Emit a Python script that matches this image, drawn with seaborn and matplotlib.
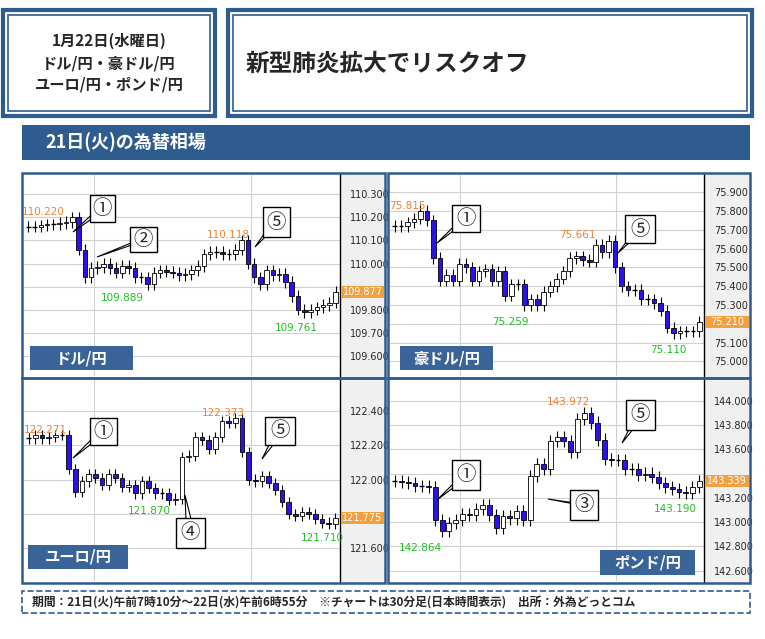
import matplotlib
matplotlib.use("Agg")
import matplotlib.pyplot as plt
import seaborn as sns
from matplotlib.patches import Rectangle, Polygon

sns.set_theme(style="white")
plt.rcParams['font.family'] = ['Noto Sans CJK JP', 'DejaVu Sans']

W, H = 765, 639
usd_close = [110.16,110.16,110.165,110.17,110.17,110.175,110.18,110.20,110.06,109.94,109.98,109.985,110.00,109.98,109.96,109.99,109.98,109.94,109.94,109.91,109.96,109.97,109.965,109.96,109.95,109.955,109.97,109.99,110.04,110.05,110.05,110.04,110.04,110.06,110.10,110.00,109.94,109.91,109.97,109.95,109.955,109.92,109.86,109.80,109.79,109.80,109.81,109.82,109.83,109.877]
aud_close = [75.72,75.72,75.74,75.76,75.80,75.75,75.55,75.43,75.46,75.43,75.52,75.50,75.43,75.48,75.49,75.43,75.48,75.35,75.41,75.41,75.30,75.33,75.30,75.37,75.40,75.44,75.48,75.55,75.56,75.54,75.53,75.62,75.58,75.64,75.50,75.40,75.38,75.38,75.33,75.33,75.31,75.27,75.18,75.15,75.16,75.16,75.16,75.21]
eur_close = [122.24,122.26,122.24,122.25,122.26,122.26,122.06,121.93,121.99,122.03,122.01,121.97,122.03,122.01,121.96,121.97,121.92,121.99,121.95,121.92,121.92,121.88,121.89,122.13,122.14,122.25,122.23,122.18,122.25,122.34,122.33,122.36,122.16,122.00,121.99,122.02,121.98,121.94,121.87,121.80,121.79,121.81,121.80,121.77,121.75,121.74,121.775]
gbp_close = [143.34,143.33,143.32,143.30,143.30,143.29,143.02,142.93,142.99,143.02,143.07,143.06,143.11,143.14,143.06,142.95,143.05,143.03,143.09,143.02,143.38,143.48,143.44,143.67,143.70,143.67,143.58,143.85,143.90,143.82,143.68,143.52,143.51,143.51,143.44,143.44,143.39,143.40,143.37,143.32,143.29,143.27,143.25,143.24,143.29,143.339]

panels = [
    dict(name="ドル/円", close=usd_close, box=(22,173,385,378), axw=45, ylim=(109.512,110.384),
         ticks=[109.6,109.7,109.8,109.9,110.0,110.1,110.2,110.3], cur=109.877, wick=0.025,
         label=(30,346,133,370),
         hl=[("110.220",43,212,'#f08030'),("109.889",122,298,'#20c020'),("110.118",228,235,'#f08030'),("109.761",296,328,'#20c020')],
         calls=[("①",90,195,115,222,73,232),("②",130,227,157,252,97,257),("⑤",263,207,290,237,255,247)]),
    dict(name="豪ドル/円", close=aud_close, box=(388,173,750,378), axw=46, ylim=(74.922,75.992),
         ticks=[75.0,75.1,75.2,75.3,75.4,75.5,75.6,75.7,75.8,75.9], cur=75.210, wick=0.03,
         label=(400,346,493,370),
         hl=[("75.815",407,206,'#f08030'),("75.259",510,322,'#20c020'),("75.661",577,235,'#f08030'),("75.110",668,350,'#20c020')],
         calls=[("①",452,205,480,232,437,243),("⑤",625,215,655,243,618,253)]),
    dict(name="ユーロ/円", close=eur_close, box=(22,378,385,583), axw=45, ylim=(121.41,122.58),
         ticks=[121.6,121.8,122.0,122.2,122.4], cur=121.775, wick=0.03,
         label=(28,545,128,569),
         hl=[("122.271",45,430,'#f08030'),("121.870",149,511,'#20c020'),("122.373",223,413,'#f08030'),("121.710",322,538,'#20c020')],
         calls=[("①",90,418,117,445,73,458),("⑤",265,417,295,445,262,459),("④",176,518,205,548,185,495)]),
    dict(name="ポンド/円", close=gbp_close, box=(388,378,750,583), axw=46, ylim=(142.515,144.17),
         ticks=[142.6,142.8,143.0,143.2,143.4,143.6,143.8,144.0], cur=143.339, wick=0.05,
         label=(600,550,695,575),
         hl=[("142.864",420,548,'#20c020'),("143.972",568,402,'#f08030'),("143.190",675,509,'#20c020')],
         calls=[("①",452,460,480,490,437,500),("⑤",626,400,655,430,622,443),("③",570,490,598,520,548,499)]),
]

fig = plt.figure(figsize=(W/100, H/100), dpi=100)
fig.patch.set_facecolor('white')
NAVY = '#2f5c8f'

def fx(x): return x / W
def fy(y): return 1 - y / H
def rect(x0, y0, x1, y1, **kw):
    fig.patches.append(Rectangle((fx(x0), fy(y1)), fx(x1)-fx(x0), (y1-y0)/H, transform=fig.transFigure, **kw))

for (x0, y0, x1, y1) in [(3,10,215,116), (228,10,752,116)]:
    rect(x0, y0, x1, y1, fill=False, ec=NAVY, lw=3)
    rect(x0+5, y0+5, x1-5, y1-5, fill=False, ec=NAVY, lw=1.2)
fig.text(fx(109), fy(63), "1月22日(水曜日)\nドル/円・豪ドル/円\nユーロ/円・ポンド/円", ha='center', va='center',
         fontsize=11, fontweight='bold', linespacing=1.45)
fig.text(fx(246), fy(64), "新型肺炎拡大でリスクオフ", ha='left', va='center', fontsize=17, fontweight='bold')
rect(22, 125, 750, 160, color=NAVY, ec='none')
fig.text(fx(45), fy(142.5), "21日(火)の為替相場", color='white', fontsize=13, fontweight='bold', va='center')

for p in panels:
    x0, y0, x1, y1 = p['box']
    px1 = x1 - p['axw']
    gax = fig.add_axes([fx(px1), fy(y1), fx(x1)-fx(px1), (y1-y0)/H], zorder=-1)
    gax.set_facecolor('#f0f0f0'); gax.set_xticks([]); gax.set_yticks([])
    for s in gax.spines.values(): s.set_visible(False)
    ax = fig.add_axes([fx(x0+2), fy(y1-2), fx(px1)-fx(x0+2), (y1-y0-4)/H])
    c = p['close']; n = len(c)
    opens = [c[0]] + c[:-1]
    for i, (o, cl) in enumerate(zip(opens, c)):
        hi = max(o, cl) + p['wick']; lo = min(o, cl) - p['wick']
        ax.vlines(i, lo, hi, color='black', lw=0.8, zorder=2)
        if abs(cl - o) < 1e-9:
            ax.hlines(cl, i-0.35, i+0.35, color='black', lw=1, zorder=3)
        else:
            fc = 'white' if cl > o else '#2a12e8'
            ax.bar(i, abs(cl-o), bottom=min(o, cl), width=0.72, color=fc, edgecolor='black', lw=0.6, zorder=3)
    ax.set_xlim(-0.7, n - 0.3)
    ax.set_ylim(*p['ylim'])
    ax.set_yticks(p['ticks'])
    span = p['ylim'][1] - p['ylim'][0]
    ax.set_yticklabels([f"{t:.3f}" if abs(t - p['cur']) > span * 0.045 else "" for t in p['ticks']],
                       fontsize=7, family='DejaVu Sans')
    ax.yaxis.tick_right()
    ax.tick_params(axis='y', length=0, pad=7)
    ax.set_xticks([n*0.21, n*0.71])
    ax.set_xticklabels([])
    ax.tick_params(axis='x', length=0)
    ax.grid(True, color='#d0d0d0', lw=0.8)
    ax.set_facecolor('white')
    for s in ax.spines.values(): s.set_visible(False)
    fig.lines.append(plt.Line2D([fx(px1), fx(px1)], [fy(y0), fy(y1)], transform=fig.transFigure, color='black', lw=1))
    rect(x0, y0, x1, y1, fill=False, ec=NAVY, lw=1.8, zorder=5)
    yc = ax.transData.transform((0, p['cur']))[1]
    ypix = H - yc
    rect(px1+1, ypix-6, x1-1, ypix+6, color='#f4a040', ec='none', zorder=6)
    fig.text(fx((px1+x1)/2), fy(ypix), f"{p['cur']:.3f}", color='white', fontsize=7, ha='center', va='center',
             family='DejaVu Sans', zorder=7)
    lx0, ly0, lx1, ly1 = p['label']
    rect(lx0, ly0, lx1, ly1, color='#3a6497', ec='none', zorder=6)
    fig.text(fx((lx0+lx1)/2), fy((ly0+ly1)/2), p['name'], color='white', fontsize=11, fontweight='bold',
             ha='center', va='center', zorder=7)
    for t, hx, hy, col in p['hl']:
        fig.text(fx(hx), fy(hy), t, color=col, fontsize=7.5, ha='center', va='center', family='DejaVu Sans')
    for t, bx0, by0, bx1, by1, tx, ty in p['calls']:
        cx, cy = (bx0+bx1)/2, (by0+by1)/2
        fig.patches.append(Polygon(
            [(fx(tx), fy(ty)), (fx(cx-4), fy(cy)), (fx(cx+4), fy(cy))], closed=True,
            transform=fig.transFigure, fc='white', ec='black', lw=0.8, zorder=8))
        rect(bx0, by0, bx1, by1, fc='white', ec='black', lw=1, zorder=9)
        fig.text(fx(cx), fy(cy), t, fontsize=14, ha='center', va='center', zorder=10)

rect(22, 591, 750, 613, fill=False, ec=NAVY, lw=1.2, ls='--')
fig.text(fx(32), fy(602), "期間：21日(火)午前7時10分～22日(水)午前6時55分　※チャートは30分足(日本時間表示)　出所：外為どっとコム",
         fontsize=8.5, fontweight='bold', va='center')

fig.savefig("out.png", dpi=100)
